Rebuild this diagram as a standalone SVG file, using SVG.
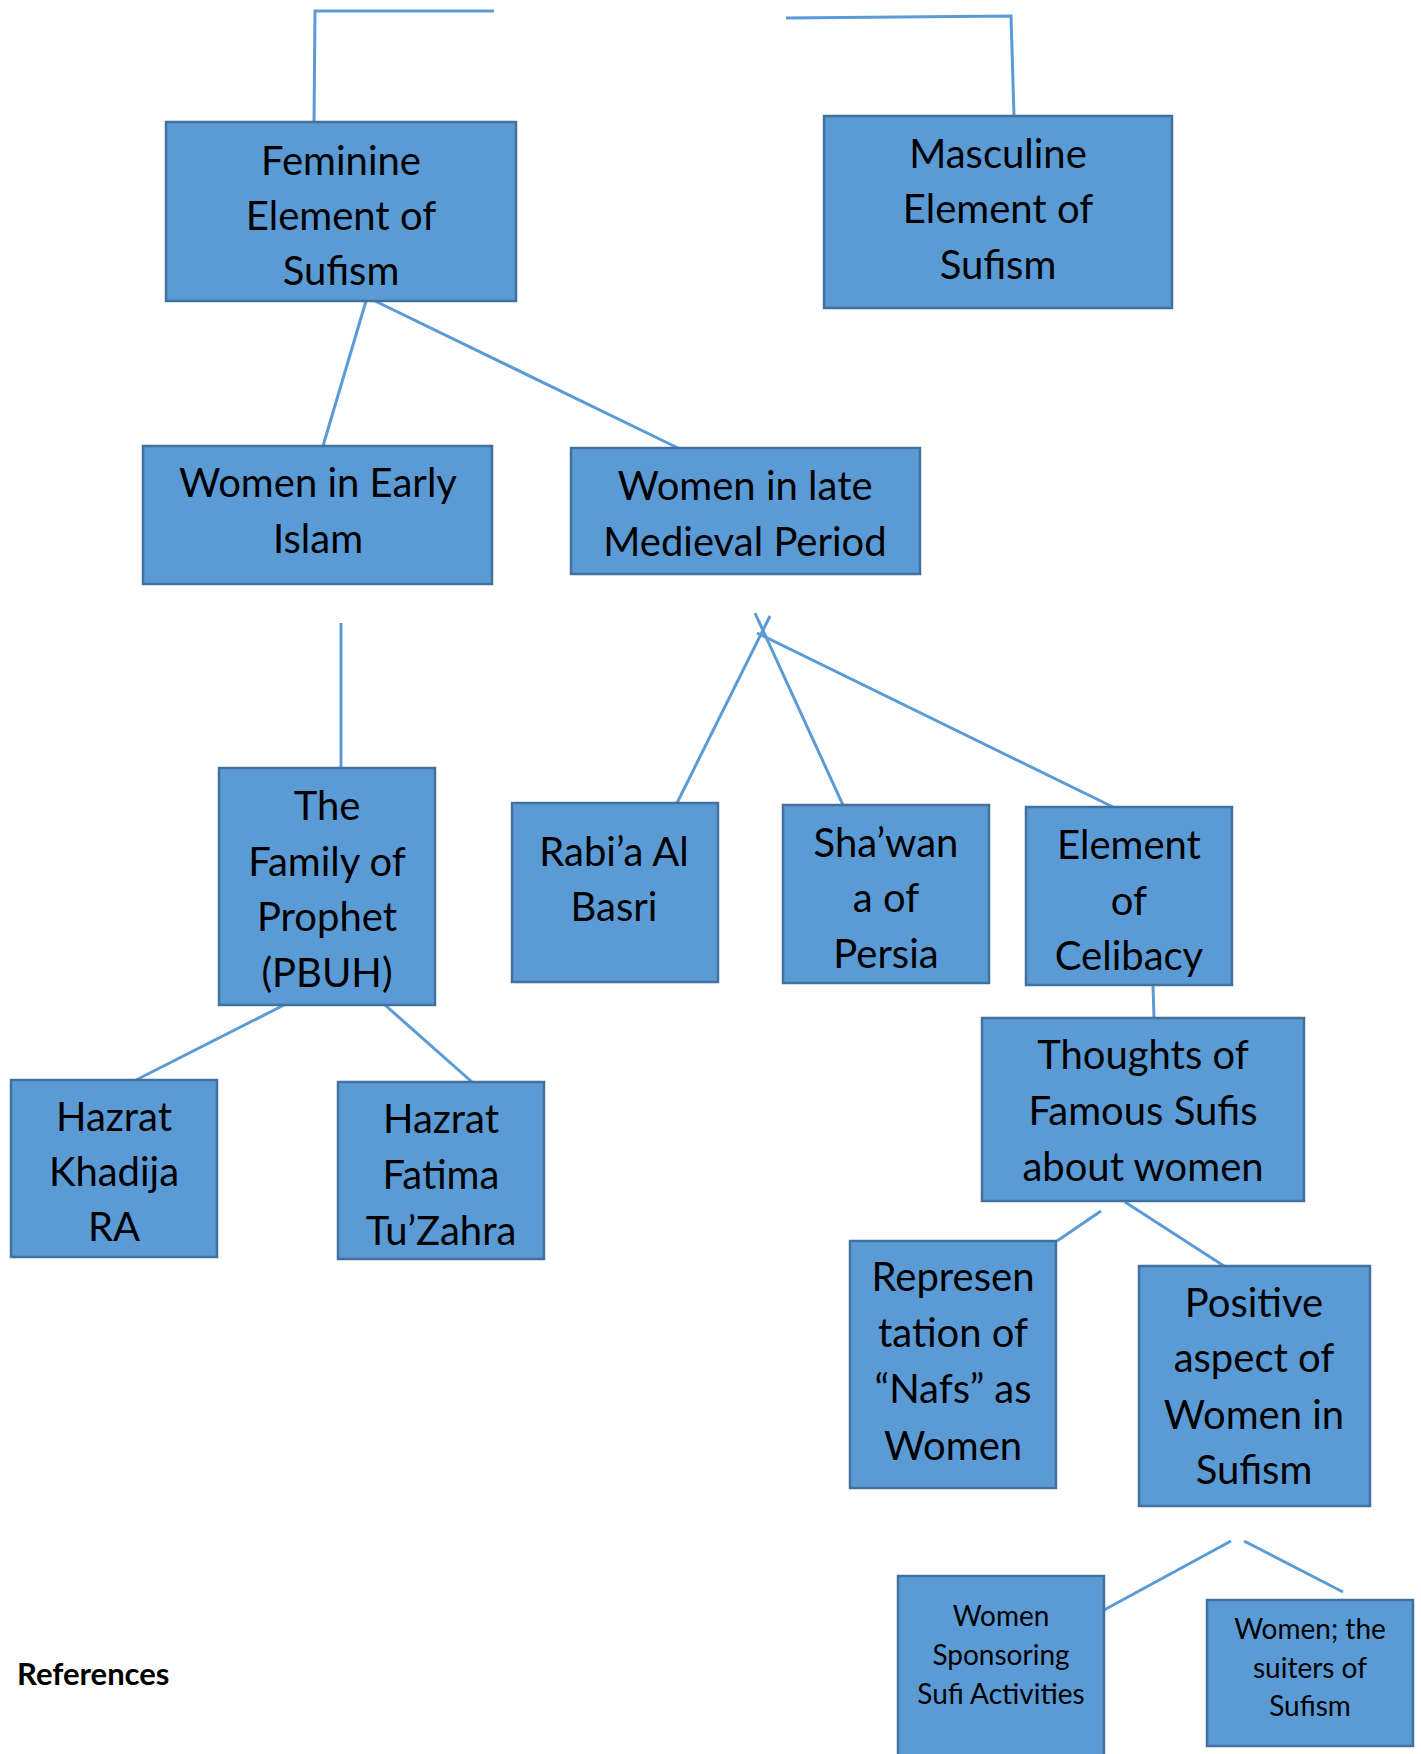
<svg xmlns="http://www.w3.org/2000/svg" width="1421" height="1754" viewBox="0 0 1421 1754">
<style>
.box{fill:#5B9BD5;stroke:#41719C;stroke-width:2.5}
.t{font-family:Lato,"Open Sans",sans-serif;font-size:40px;fill:#000;text-anchor:middle}
.s{font-family:Lato,"Open Sans",sans-serif;font-size:28px;fill:#000;text-anchor:middle}
.c{stroke:#5B9BD5;stroke-width:3;fill:none}
.ref{font-family:Lato,"Open Sans",sans-serif;font-size:31px;font-weight:bold;fill:#000}
</style>
<rect width="1421" height="1754" fill="#fff"/>
<g id="connectors">
<polyline class="c" points="494,11 315,11 314,123"/>
<polyline class="c" points="786,18 1011,16 1014,116"/>
<line class="c" x1="366" y1="301" x2="323" y2="446"/>
<line class="c" x1="373" y1="300" x2="678" y2="448"/>
<line class="c" x1="770" y1="616" x2="677" y2="803"/>
<line class="c" x1="755" y1="613" x2="843" y2="805"/>
<line class="c" x1="757" y1="633" x2="1113" y2="807"/>
<line class="c" x1="341" y1="623" x2="341" y2="768"/>
<line class="c" x1="284" y1="1005" x2="136" y2="1080"/>
<line class="c" x1="385" y1="1005" x2="472" y2="1082"/>
<line class="c" x1="1153" y1="985" x2="1154" y2="1018"/>
<line class="c" x1="1101" y1="1211" x2="1057" y2="1241"/>
<line class="c" x1="1125" y1="1202" x2="1224" y2="1266"/>
<line class="c" x1="1231" y1="1541" x2="1104" y2="1610"/>
<line class="c" x1="1244" y1="1541" x2="1343" y2="1592"/>
</g>
<g id="n-feminine"><rect class="box" x="166" y="122" width="350" height="179"/>
<text class="t" x="341" y="175">Feminine</text><text class="t" x="341" y="230">Element of</text><text class="t" x="341" y="285">Sufism</text></g>
<g id="n-masculine"><rect class="box" x="824" y="116" width="348" height="192"/>
<text class="t" x="998" y="168">Masculine</text><text class="t" x="998" y="223">Element of</text><text class="t" x="998" y="279">Sufism</text></g>
<g id="n-early"><rect class="box" x="143" y="446" width="349" height="138"/>
<text class="t" x="318" y="497">Women in Early</text><text class="t" x="318" y="553">Islam</text></g>
<g id="n-late"><rect class="box" x="571" y="448" width="349" height="126"/>
<text class="t" x="745" y="500">Women in late</text><text class="t" x="745" y="556">Medieval Period</text></g>
<g id="n-family"><rect class="box" x="219" y="768" width="216" height="237"/>
<text class="t" x="327" y="820">The</text><text class="t" x="327" y="876">Family of</text><text class="t" x="327" y="931">Prophet</text><text class="t" x="327" y="987">(PBUH)</text></g>
<g id="n-rabia"><rect class="box" x="512" y="803" width="206" height="179"/>
<text class="t" x="614" y="866">Rabi’a Al</text><text class="t" x="614" y="921">Basri</text></g>
<g id="n-shawan"><rect class="box" x="783" y="805" width="206" height="178"/>
<text class="t" x="886" y="857">Sha’wan</text><text class="t" x="886" y="912">a of</text><text class="t" x="886" y="968">Persia</text></g>
<g id="n-celibacy"><rect class="box" x="1026" y="807" width="206" height="178"/>
<text class="t" x="1129" y="859">Element</text><text class="t" x="1129" y="915">of</text><text class="t" x="1129" y="970">Celibacy</text></g>
<g id="n-thoughts"><rect class="box" x="982" y="1018" width="322" height="183"/>
<text class="t" x="1143" y="1069">Thoughts of</text><text class="t" x="1143" y="1125">Famous Sufis</text><text class="t" x="1143" y="1181">about women</text></g>
<g id="n-khadija"><rect class="box" x="11" y="1080" width="206" height="177"/>
<text class="t" x="114" y="1131">Hazrat</text><text class="t" x="114" y="1186">Khadija</text><text class="t" x="114" y="1241">RA</text></g>
<g id="n-fatima"><rect class="box" x="338" y="1082" width="206" height="177"/>
<text class="t" x="441" y="1133">Hazrat</text><text class="t" x="441" y="1189">Fatima</text><text class="t" x="441" y="1245">Tu’Zahra</text></g>
<g id="n-represen"><rect class="box" x="850" y="1241" width="206" height="247"/>
<text class="t" x="953" y="1291">Represen</text><text class="t" x="953" y="1347">tation of</text><text class="t" x="953" y="1403">“Nafs” as</text><text class="t" x="953" y="1460">Women</text></g>
<g id="n-positive"><rect class="box" x="1139" y="1266" width="231" height="240"/>
<text class="t" x="1254" y="1317">Positive</text><text class="t" x="1254" y="1372">aspect of</text><text class="t" x="1254" y="1429">Women in</text><text class="t" x="1254" y="1484">Sufism</text></g>
<g id="n-sponsoring"><rect class="box" x="898" y="1576" width="206" height="190"/>
<text class="s" x="1001" y="1626">Women</text><text class="s" x="1001" y="1665">Sponsoring</text><text class="s" x="1001" y="1704">Sufi Activities</text></g>
<g id="n-suiters"><rect class="box" x="1207" y="1600" width="206" height="146"/>
<text class="s" x="1310" y="1639">Women; the</text><text class="s" x="1310" y="1678">suiters of</text><text class="s" x="1310" y="1716">Sufism</text></g>
<text class="ref" x="17" y="1685">References</text>
</svg>
